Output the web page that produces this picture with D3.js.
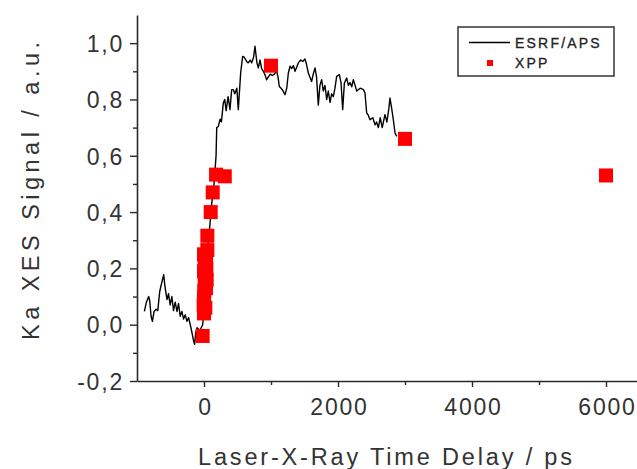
<!DOCTYPE html>
<html>
<head>
<meta charset="utf-8">
<script src="https://cdn.jsdelivr.net/npm/d3@7"></script>
<style>
  html, body { margin: 0; padding: 0; background: #fff; }
  svg { display: block; }
  text { font-family: "Liberation Sans", Arial, sans-serif; }
</style>
</head>
<body>
<svg id="chart" width="637" height="469"></svg>
<script>
// ---- data ----
const esrfDelay = [-890,-860,-825,-810,-790,-770,-745,-715,-690,-661,-640,-601,-585,-552,-530,-505,-480,-455,-430,-403,-380,-355,-330,-305,-280,-254,-230,-205,-179,-154,-140,-125,-104,-60,-20,0,30,60,90,115,150,180,190,214,240,260,288,310,330,360,388,413,438,460,490,512,530,547,577,600,637,660,690,712,740,761,790,811,836,860,885,910,935,960,990,1020,1050,1085,1105,1124,1150,1180,1209,1235,1259,1284,1310,1335,1358,1385,1408,1443,1475,1507,1530,1557,1580,1607,1630,1657,1680,1706,1730,1756,1780,1805,1831,1855,1881,1905,1930,1955,1980,2020,2045,2070,2095,2130,2155,2180,2205,2229,2255,2280,2330,2380,2403,2428,2450,2478,2520,2552,2575,2602,2630,2660,2701,2730,2760,2776,2800,2826,2851,2876];
const esrfSignal = [0.047,0.08,0.10,0.085,0.03,0.012,0.047,0.055,0.05,0.118,0.14,0.178,0.14,0.089,0.11,0.07,0.10,0.05,0.08,0.047,0.075,0.03,0.047,0.02,0.035,0.012,0.025,0.0,-0.029,-0.059,-0.07,-0.03,-0.011,-0.02,0.0,0.05,0.15,0.28,0.36,0.43,0.50,0.60,0.70,0.704,0.73,0.72,0.787,0.80,0.76,0.81,0.764,0.835,0.835,0.82,0.84,0.764,0.83,0.894,0.953,0.95,0.935,0.93,0.94,0.93,0.95,0.989,0.93,0.912,0.94,0.91,0.90,0.888,0.87,0.88,0.89,0.885,0.89,0.90,0.88,0.846,0.84,0.83,0.817,0.84,0.894,0.918,0.91,0.92,0.90,0.915,0.93,0.94,0.935,0.944,0.925,0.894,0.88,0.864,0.89,0.912,0.88,0.78,0.85,0.87,0.83,0.85,0.80,0.83,0.79,0.82,0.81,0.84,0.882,0.888,0.86,0.764,0.858,0.876,0.85,0.86,0.845,0.87,0.85,0.83,0.84,0.835,0.823,0.752,0.745,0.728,0.735,0.71,0.72,0.70,0.735,0.70,0.746,0.72,0.77,0.805,0.77,0.728,0.681,0.669];

const xppDelay  = [-20,0,-5,0,30,40,0,10,30,50,20,10,0,35,20,5,50,100,130,180,310,1000,3000,6000];
const xppSignal = [-0.04,0.04,0.07,0.10,0.13,0.16,0.19,0.21,0.24,0.265,0.22,0.15,0.25,0.20,0.06,0.12,0.316,0.40,0.47,0.533,0.527,0.92,0.66,0.53];

const xTicks = [0, 2000, 4000, 6000];
const xTickLabels = ["0", "2000", "4000", "6000"];
const xMinorTicks = [1000, 3000, 5000];
const yTicks = [-0.2, 0.0, 0.2, 0.4, 0.6, 0.8, 1.0];
const yTickLabels = ["-0,2", "0,0", "0,2", "0,4", "0,6", "0,8", "1,0"];
const yMinorTicks = [-0.1, 0.1, 0.3, 0.5, 0.7, 0.9];
const seriesNames = ["ESRF/APS", "XPP"];
const xTitle = "Laser-X-Ray Time Delay / ps";
const yTitle = "Ka XES Signal / a.u.";

// ---- chart ----
const svg = d3.select("#chart");
const x = d3.scaleLinear().domain([-1000, 6500]).range([137, 639.5]);
const y = d3.scaleLinear().domain([-0.2, 1.1]).range([381, 15]);
const ink = "#2a2a2a";

// axes
const xAxis = svg.append("g").attr("transform", `translate(0,${y(-0.2)})`)
  .call(d3.axisBottom(x).tickValues(xTicks).tickSize(6).tickSizeOuter(0)
    .tickFormat((d, i) => xTickLabels[i]));
svg.append("g").attr("transform", `translate(0,${y(-0.2)})`)
  .call(d3.axisBottom(x).tickValues(xMinorTicks).tickSize(4).tickSizeOuter(0).tickFormat(""))
  .call(g => g.select(".domain").remove());

const yAxis = svg.append("g").attr("transform", `translate(${x(-1000)},0)`)
  .call(d3.axisLeft(y).tickValues(yTicks).tickSize(7).tickSizeOuter(0)
    .tickFormat((d, i) => yTickLabels[i]));
svg.append("g").attr("transform", `translate(${x(-1000)},0)`)
  .call(d3.axisLeft(y).tickValues(yMinorTicks).tickSize(4).tickSizeOuter(0).tickFormat(""))
  .call(g => g.select(".domain").remove());

svg.selectAll(".domain").attr("stroke", ink).attr("stroke-width", 1.6);
svg.selectAll(".tick line").attr("stroke", ink).attr("stroke-width", 1.4);
svg.selectAll(".tick text")
  .attr("fill", "#333")
  .style("font-size", "23px")
  .style("font-family", "'Liberation Sans', Arial, sans-serif")
  .style("letter-spacing", "1.8px");
xAxis.selectAll(".tick text").attr("y", 18).attr("dy", "0.71em").attr("dx", "1px");
yAxis.selectAll(".tick text").attr("x", -13).attr("dy", "0.36em");

// titles
svg.append("text")
  .attr("x", 385).attr("y", 465)
  .attr("text-anchor", "middle")
  .attr("fill", "#333")
  .style("font-size", "23.5px")
  .attr("textLength", 374).attr("lengthAdjust", "spacing")
  .text(xTitle);

svg.append("text")
  .attr("transform", "translate(39,191) rotate(-90)")
  .attr("text-anchor", "middle")
  .attr("fill", "#333")
  .style("font-size", "23.5px")
  .attr("textLength", 298).attr("lengthAdjust", "spacing")
  .text(yTitle);

// ESRF/APS line
const lineData = esrfDelay.map((d, i) => [d, esrfSignal[i]]);
svg.append("path")
  .datum(lineData)
  .attr("fill", "none")
  .attr("stroke", "#000")
  .attr("stroke-width", 1.4)
  .attr("stroke-linejoin", "round")
  .attr("d", d3.line().x(d => x(d[0])).y(d => y(d[1])));

// XPP squares
const sq = 14;
svg.append("g").selectAll("rect")
  .data(xppDelay.map((d, i) => [d, xppSignal[i]]))
  .join("rect")
  .attr("x", d => x(d[0]) - sq / 2)
  .attr("y", d => y(d[1]) - sq / 2)
  .attr("width", sq).attr("height", sq)
  .attr("fill", "#ff0000");

// legend
const lg = svg.append("g");
lg.append("rect").attr("x", 458).attr("y", 27).attr("width", 156).attr("height", 49)
  .attr("fill", "#fff").attr("stroke", "#333").attr("stroke-width", 1.5);
lg.append("line").attr("x1", 469).attr("x2", 510).attr("y1", 42.5).attr("y2", 42.5)
  .attr("stroke", "#000").attr("stroke-width", 1.4);
lg.append("rect").attr("x", 487).attr("y", 60).attr("width", 6).attr("height", 6)
  .attr("fill", "#ff0000");
lg.selectAll("text.leg").data(seriesNames).join("text")
  .attr("class", "leg")
  .attr("x", 515)
  .attr("y", (d, i) => 47.5 + i * 20.5)
  .attr("fill", "#222")
  .attr("stroke", "#222").attr("stroke-width", 0.3)
  .style("font-size", "14px")
  .style("letter-spacing", "2.2px")
  .text(d => d);
</script>
</body>
</html>
